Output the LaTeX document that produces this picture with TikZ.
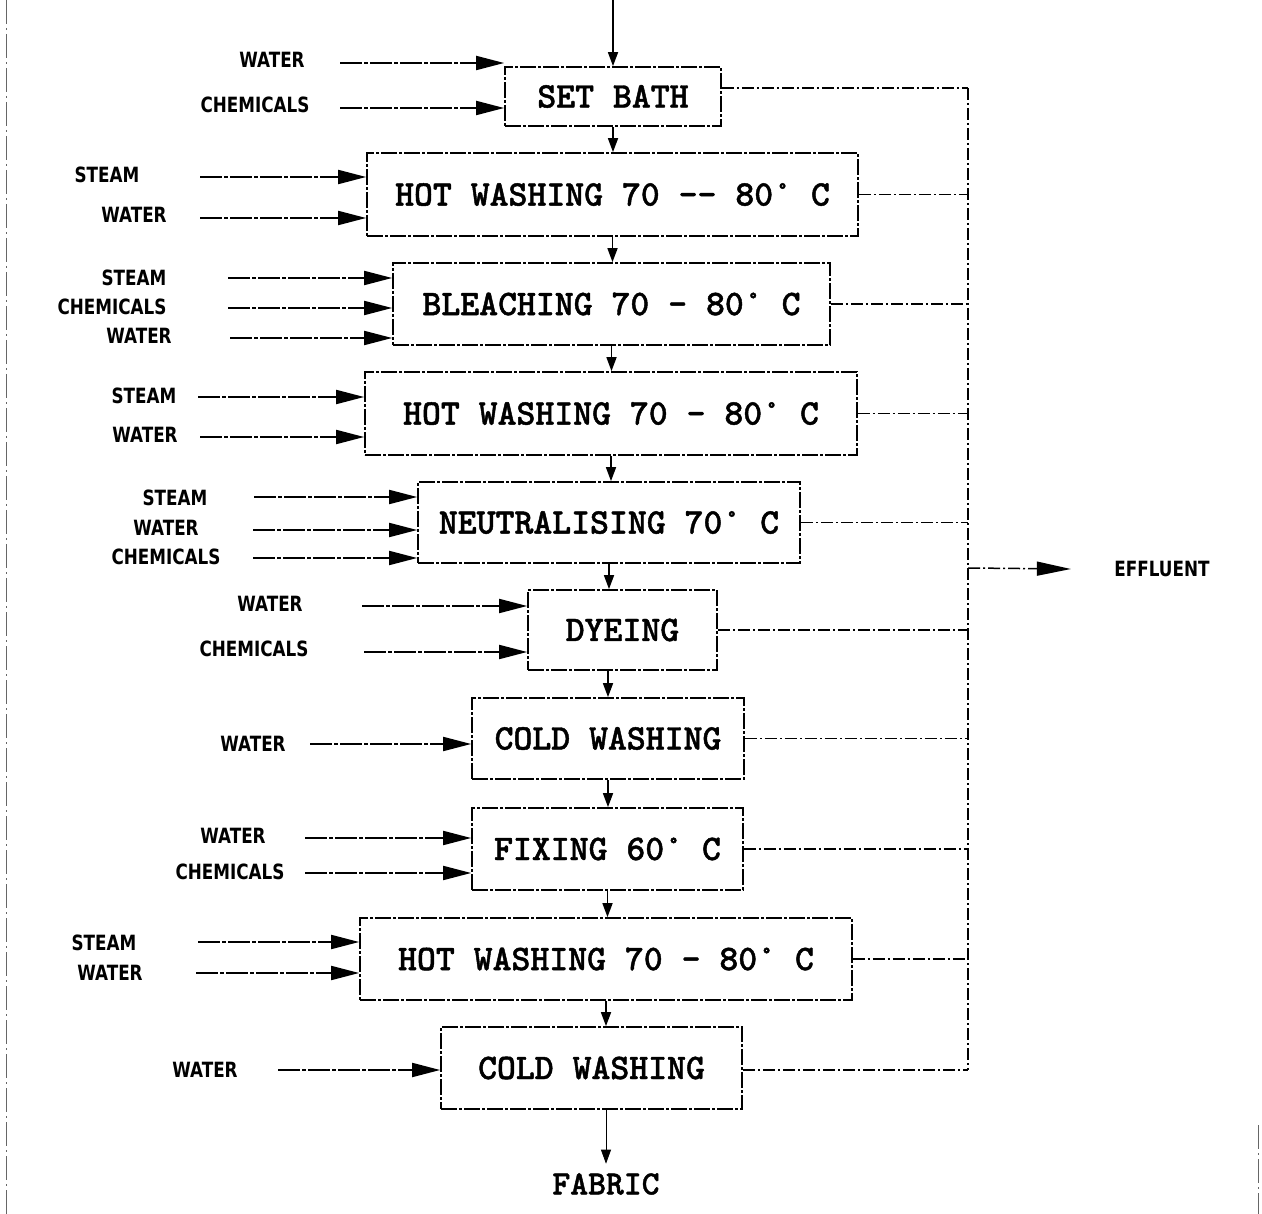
\documentclass[tikz,border=0pt]{standalone}
\usepackage{fontspec}
\usetikzlibrary{arrows.meta}
\newfontfamily\boxfont[FakeBold=1.2]{lmmonolt10-bold.otf}
\newfontfamily\lblfont[FakeStretch=0.8]{DejaVu Sans}

\begin{document}
\begin{tikzpicture}[x=1pt, y=-1pt,
        proc/.style={draw, line width=1.7pt, dash pattern=on 16pt off 2pt on 3pt off 2pt,
            inner sep=0pt, font=\boxfont\fontsize{36}{40}\selectfont},
        inlbl/.style={font=\lblfont\bfseries\fontsize{21}{24}\selectfont},
        feed/.style={line width=1.9pt, dash pattern=on 22pt off 2pt on 4pt off 2pt,
            -{Triangle[length=28pt,width=14pt]}},
        down/.style={line width=1.6pt, -{Triangle[length=14pt,width=10pt]}},
        drain/.style={line width=1.5pt, dash pattern=on 12pt off 3pt on 2pt off 3pt}]

        \useasboundingbox (0,0) rectangle (1262,1214);

        % page edges
        \draw[black!60, line width=1pt, dash pattern=on 24pt off 4pt on 2pt off 4pt] (6,0) -- (6,1214);
        \draw[black!60, line width=1pt, dash pattern=on 24pt off 4pt on 2pt off 4pt] (1258,1125) -- (1258,1214);

        % process steps
        \node[proc, minimum width=216pt, minimum height=59pt] (setbath) at (613,96.5) {SET BATH};
        \node[proc, minimum width=491pt, minimum height=83pt] (hotwash1) at (612.5,194.5) {HOT WASHING 70 -{}- 80° C};
        \node[proc, minimum width=437pt, minimum height=82pt] (bleach) at (611.5,304) {BLEACHING 70 – 80° C};
        \node[proc, minimum width=492pt, minimum height=83pt] (hotwash2) at (611,413.5) {HOT WASHING 70 – 80° C};
        \node[proc, minimum width=382pt, minimum height=81pt] (neutral) at (609,522.5) {NEUTRALISING 70° C};
        \node[proc, minimum width=189pt, minimum height=80pt] (dyeing) at (622.5,630) {DYEING};
        \node[proc, minimum width=272pt, minimum height=81pt] (coldwash1) at (608,738.5) {COLD WASHING};
        \node[proc, minimum width=271pt, minimum height=82pt] (fixing) at (607.5,849) {FIXING 60° C};
        \node[proc, minimum width=492pt, minimum height=82pt] (hotwash3) at (606,959) {HOT WASHING 70 – 80° C};
        \node[proc, minimum width=301pt, minimum height=82pt] (coldwash2) at (591.5,1068) {COLD WASHING};
        \node[font=\boxfont\fontsize{34}{38}\selectfont] (fabric) at (606,1184) {FABRIC};

        % main flow
        \coordinate (start) at (613,0);
        \draw[down] (start) -- (setbath.north);
        \draw[down] (setbath.south) -- (setbath.south |- hotwash1.north);
        \draw[down] (hotwash1.south) -- (hotwash1.south |- bleach.north);
        \draw[down] (bleach.south) -- (bleach.south |- hotwash2.north);
        \draw[down] (hotwash2.south) -- (hotwash2.south |- neutral.north);
        \draw[down] (neutral.south) -- (neutral.south |- dyeing.north);
        \draw[down] (dyeing.south -| coldwash1.north) -- (coldwash1.north);
        \draw[down] (coldwash1.south) -- (coldwash1.south |- fixing.north);
        \draw[down] (fixing.south) -- (fixing.south |- hotwash3.north);
        \draw[down] (hotwash3.south) -- (hotwash3.south |- coldwash2.north);
        \draw[down, line width=0.8pt] (coldwash2.south -| fabric.north) -- ([yshift=6pt]fabric.north);

        % inputs
        \node[inlbl] (sbwater) at (272,60) {WATER};
        \node[inlbl] (sbchem) at (255,105) {CHEMICALS};
        \coordinate (sbwaters) at (340,63);
        \coordinate (sbchems) at (340,108);
        \draw[feed] (sbwaters) -- (sbwaters -| setbath.west);
        \draw[feed] (sbchems) -- (sbchems -| setbath.west);

        \node[inlbl] (hw1steam) at (107,175) {STEAM};
        \node[inlbl] (hw1water) at (134,215) {WATER};
        \coordinate (hw1steams) at (200,177);
        \coordinate (hw1waters) at (200,218);
        \draw[feed] (hw1steams) -- (hw1steams -| hotwash1.west);
        \draw[feed] (hw1waters) -- (hw1waters -| hotwash1.west);

        \node[inlbl] (blsteam) at (134,278) {STEAM};
        \node[inlbl] (blchem) at (112,307) {CHEMICALS};
        \node[inlbl] (blwater) at (139,336) {WATER};
        \coordinate (blsteams) at (228,278);
        \coordinate (blchems) at (228,308);
        \coordinate (blwaters) at (230,338);
        \draw[feed] (blsteams) -- (blsteams -| bleach.west);
        \draw[feed] (blchems) -- (blchems -| bleach.west);
        \draw[feed] (blwaters) -- (blwaters -| bleach.west);

        \node[inlbl] (hw2steam) at (144,396) {STEAM};
        \node[inlbl] (hw2water) at (145,435) {WATER};
        \coordinate (hw2steams) at (198,397);
        \coordinate (hw2waters) at (200,437);
        \draw[feed] (hw2steams) -- (hw2steams -| hotwash2.west);
        \draw[feed] (hw2waters) -- (hw2waters -| hotwash2.west);

        \node[inlbl] (nesteam) at (175,498) {STEAM};
        \node[inlbl] (newater) at (166,528) {WATER};
        \node[inlbl] (nechem) at (166,557) {CHEMICALS};
        \coordinate (nesteams) at (254,497);
        \coordinate (newaters) at (253,530);
        \coordinate (nechems) at (253,558);
        \draw[feed] (nesteams) -- (nesteams -| neutral.west);
        \draw[feed] (newaters) -- (newaters -| neutral.west);
        \draw[feed] (nechems) -- (nechems -| neutral.west);

        \node[inlbl] (dywater) at (270,604) {WATER};
        \node[inlbl] (dychem) at (254,649) {CHEMICALS};
        \coordinate (dywaters) at (362,606);
        \coordinate (dychems) at (364,652);
        \draw[feed] (dywaters) -- (dywaters -| dyeing.west);
        \draw[feed] (dychems) -- (dychems -| dyeing.west);

        \node[inlbl] (cw1water) at (253,744) {WATER};
        \coordinate (cw1waters) at (310,744);
        \draw[feed] (cw1waters) -- (cw1waters -| coldwash1.west);

        \node[inlbl] (fxwater) at (233,836) {WATER};
        \node[inlbl] (fxchem) at (230,872) {CHEMICALS};
        \coordinate (fxwaters) at (305,838);
        \coordinate (fxchems) at (305,873);
        \draw[feed] (fxwaters) -- (fxwaters -| fixing.west);
        \draw[feed] (fxchems) -- (fxchems -| fixing.west);

        \node[inlbl] (hw3steam) at (104,943) {STEAM};
        \node[inlbl] (hw3water) at (110,973) {WATER};
        \coordinate (hw3steams) at (198,942);
        \coordinate (hw3waters) at (196,973);
        \draw[feed] (hw3steams) -- (hw3steams -| hotwash3.west);
        \draw[feed] (hw3waters) -- (hw3waters -| hotwash3.west);

        \node[inlbl] (cw2water) at (205,1070) {WATER};
        \coordinate (cw2waters) at (278,1070);
        \draw[feed] (cw2waters) -- (cw2waters -| coldwash2.west);

        % effluent collector
        \coordinate (colltop) at (968,88);
        \coordinate (collbot) at (968,1070);
        \coordinate (collout) at (968,568);
        \node[inlbl] (effluent) at (1162,569) {EFFLUENT};
        \draw[drain] (colltop) -- (collbot);
        \draw[drain] ([yshift=8.5pt]setbath.east) -- (colltop);
        \draw[drain] (hotwash1.east) -- (hotwash1.east -| colltop);
        \draw[drain] (bleach.east) -- (bleach.east -| colltop);
        \draw[drain] (hotwash2.east) -- (hotwash2.east -| colltop);
        \draw[drain] (neutral.east) -- (neutral.east -| colltop);
        \draw[drain] (dyeing.east) -- (dyeing.east -| colltop);
        \draw[drain] (coldwash1.east) -- (coldwash1.east -| colltop);
        \draw[drain] (fixing.east) -- (fixing.east -| colltop);
        \draw[drain] (hotwash3.east) -- (hotwash3.east -| colltop);
        \draw[drain] ([yshift=-2pt]coldwash2.east) -- (collbot);
        \draw[drain, -{Triangle[length=34pt,width=14pt]}] (collout) -- ([xshift=-40pt]effluent.west);

\end{tikzpicture}
\end{document}
